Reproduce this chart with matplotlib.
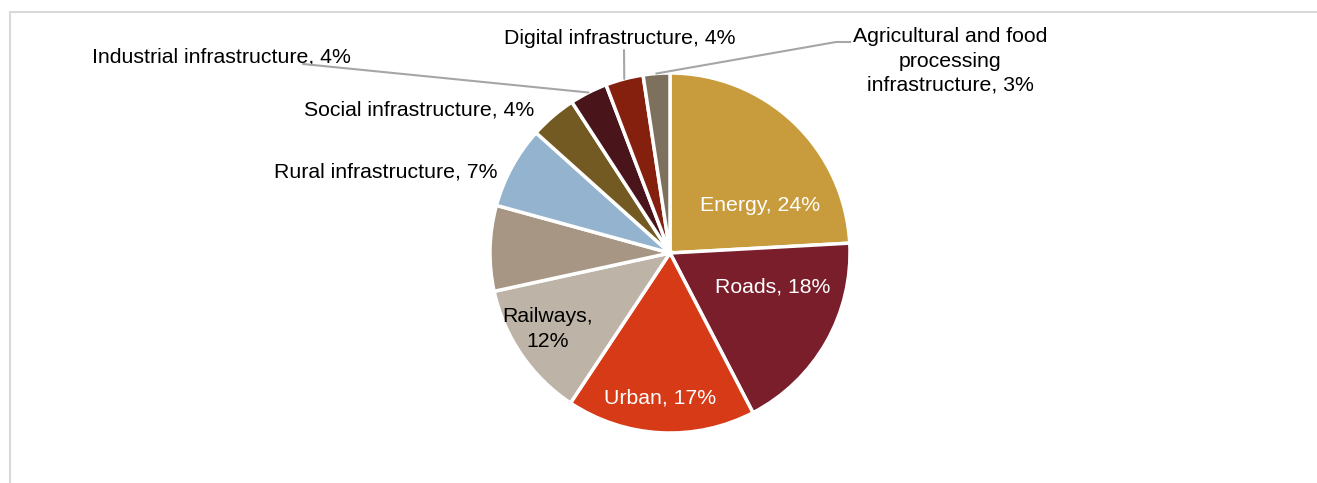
import matplotlib.pyplot as plt
import numpy as np
from matplotlib.patches import Rectangle

plt.rcParams['font.family'] = ['Liberation Sans', 'DejaVu Sans']

# shares by sector, clockwise from 12 o'clock
sectors = ['Energy', 'Roads', 'Urban', 'Railways', 'Other', 'Rural infrastructure',
           'Social infrastructure', 'Industrial infrastructure', 'Digital infrastructure',
           'Agricultural and food\nprocessing\ninfrastructure']
shares = [24.2, 18.3, 17.0, 12.3, 7.7, 7.4, 4.2, 3.4, 3.4, 2.4]
shown = ['24%', '18%', '17%', '12%', '', '7%', '4%', '4%', '4%', '3%']
colors = ['#C89B3C', '#7B1E2B', '#D63A17', '#BDB4A7', '#A69683', '#94B3CF',
          '#735A22', '#4A141B', '#85200F', '#7D715E']

W, H = 1317, 483
fig = plt.figure(figsize=(W / 100, H / 100), dpi=100)

# light frame, only left and top edges visible
fig.patches.append(Rectangle((10 / W, -0.1), 1.2, (H - 12) / H + 0.1, transform=fig.transFigure,
                             fill=False, edgecolor='#D9D9D9', linewidth=1.5))

cx, cy, r = 670, 253, 180
ax = fig.add_axes([(cx - r) / W, (H - cy - r) / H, 2 * r / W, 2 * r / H])
wedges, _ = ax.pie(shares, colors=colors, startangle=90, counterclock=False,
                   wedgeprops=dict(edgecolor='white', linewidth=2.5))
ax.set_xlim(-1, 1)
ax.set_ylim(-1, 1)
ax.set_aspect('equal')
ax.axis('off')


def px(x, y):
    # pixel position -> data coordinates of the pie axes
    return ((x - cx) / r, (cy - y) / r)


fs = 15.3
# labels inside the wedges
inside = {0: ((760, 205), 'white'), 1: ((773, 287), 'white'), 2: ((660, 398), 'white')}
for i, (pos, c) in inside.items():
    ax.text(*px(*pos), f'{sectors[i]}, {shown[i]}', color=c, fontsize=fs,
            ha='center', va='center')
ax.text(*px(548, 329), f'{sectors[3]},\n{shown[3]}', color='black', fontsize=fs,
        ha='center', va='center', linespacing=1.35)

# labels outside
ax.text(*px(497, 172), f'{sectors[5]}, {shown[5]}', fontsize=fs, ha='right', va='center')
ax.text(*px(534, 110), f'{sectors[6]}, {shown[6]}', fontsize=fs, ha='right', va='center')


def anchor(i):
    w = wedges[i]
    t = np.deg2rad((w.theta1 + w.theta2) / 2)
    return (np.cos(t), np.sin(t))


lc = '#A6A6A6'
ax.text(*px(92, 57), f'{sectors[7]}, {shown[7]}', fontsize=fs, ha='left', va='center')
ax.annotate('', xy=anchor(7), xytext=px(303, 64),
            arrowprops=dict(arrowstyle='-', color=lc, lw=1.5, shrinkA=0, shrinkB=0),
            annotation_clip=False)

ax.text(*px(620, 38), f'{sectors[8]}, {shown[8]}', fontsize=fs, ha='center', va='center')
ax.annotate('', xy=anchor(8), xytext=px(624, 50),
            arrowprops=dict(arrowstyle='-', color=lc, lw=1.5, shrinkA=0, shrinkB=0),
            annotation_clip=False)

ax.text(*px(950, 61), f'{sectors[9]}, {shown[9]}', fontsize=fs, ha='center', va='center',
        linespacing=1.35)
ax.plot(*zip(px(850, 42), px(836, 42), anchor(9)), color=lc, lw=1.5, clip_on=False)

fig.savefig('out.png', dpi=100)
